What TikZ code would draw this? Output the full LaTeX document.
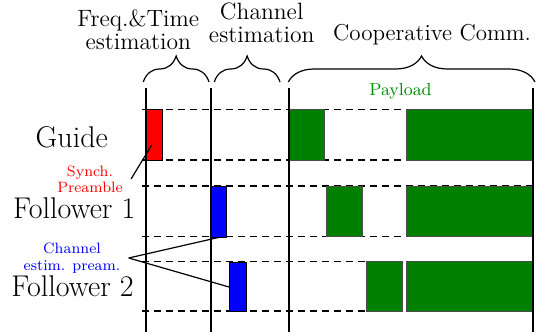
\documentclass[tikz,border=0pt]{standalone}
\usepackage{fontspec}
\usetikzlibrary{decorations.pathreplacing}
\begin{document}
\begin{tikzpicture}%
[x=0.5pt,y=-0.5pt,
every node/.style={inner sep=0pt, align=center},
title/.style={font=\fontsize{11.8}{11.4}\selectfont},
role/.style={font=\fontsize{15}{16}\selectfont, anchor=base},
note/.style={font=\fontsize{7.5}{8.2}\selectfont, inner xsep=4pt},
bar/.style={draw=black!70, thin, fill=green!50!black},
preamble/.style={draw=black, thin, anchor=north west},
lane/.style={line width=0.7pt, dash pattern=on 3.5pt off 2.5pt},
border/.style={thick},
curly/.style={decorate, decoration={brace, amplitude=13pt}, semithick}]
\useasboundingbox (0,0) rectangle (536,332);
\foreach \y in {109.3,160,186,236.5,261.5,311}
  \draw [lane] (142,\y) -- (536,\y);
\draw [bar] (289,109.3) rectangle (324.3,160);
\draw [bar] (406.7,109.3) rectangle (533,160);
\draw [bar] (326.3,186) rectangle (362.3,236.5);
\draw [bar] (406.7,186) rectangle (533,236.5);
\draw [bar] (366.7,261.5) rectangle (402.3,311.5);
\draw [bar] (406.7,261.5) rectangle (533,311.5);
\node (synch) at (145.7,109.3) [preamble, fill=red, minimum width=8.3pt,
minimum height=25.35pt] {};
\node (cest1) at (210.7,186) [preamble, fill=blue, minimum width=7.7pt,
minimum height=25.3pt] {};
\node (cest2) at (229,262) [preamble, fill=blue, minimum width=8.35pt,
minimum height=24.6pt] {};
\foreach \x in {145.7,210.7,289,533}
  \draw [border] (\x,88) -- (\x,332);
\draw [curly] (143.3,82) -- (209,82);
\draw [curly] (214.3,82) -- (280,82);
\draw [curly, decoration={aspect=0.54}] (288.3,82) -- (535,82);
\node (freqtime) at (138.3,30) [title] {Freq.\&Time\\estimation};
\node (chanest) at (261.7,23) [title] {Channel\\estimation};
\node (coop) at (432,40) [title, anchor=base,
font=\fontsize{11.5}{11.4}\selectfont] {Cooperative Comm.};
\node (payload) at (400.5,95) [anchor=base, text=green!55!black,
font=\fontsize{8.7}{10}\selectfont] {Payload};
\node (guide) at (71.7,147.3) [role] {Guide};
\node (follower1) at (74.2,218.3) [role] {Follower 1};
\node (follower2) at (72.5,296.7) [role] {Follower 2};
\node (synchnote) at (90,179) [note, text=red] {Synch.\\Preamble};
\node (cestnote) at (72,258) [note, text=blue] {Channel\\estim. pream.};
\coordinate (synchtip) at (151.7,145);
\draw [semithick] (synchnote.east) -- (synchtip);
\draw [semithick] (cestnote.east) -- (cest1.south);
\draw [semithick] (cestnote.east) -- (cest2.west);
\end{tikzpicture}
\end{document}
